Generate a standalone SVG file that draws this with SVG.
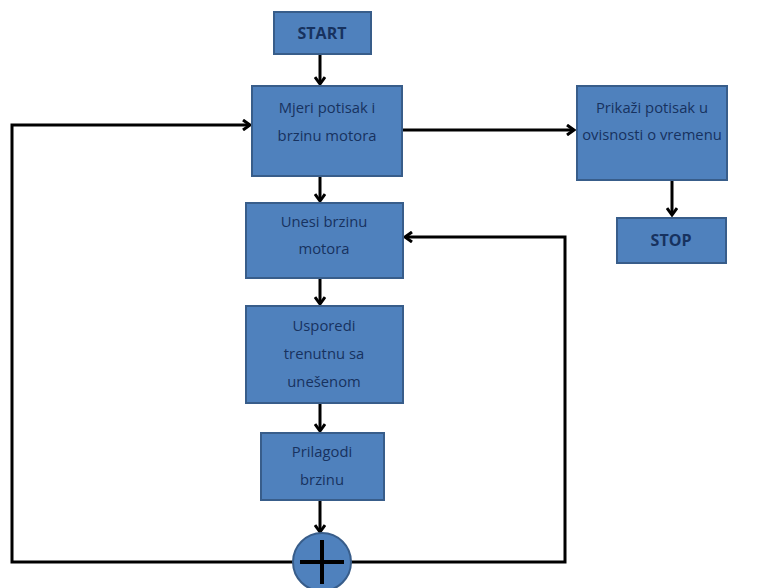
<svg xmlns="http://www.w3.org/2000/svg" width="761" height="588" viewBox="0 0 761 588">
<defs>
<style>
.box{fill:#4f81bd;stroke:#385d8a;stroke-width:2}
.t{font-family:"Open Sans","Liberation Sans",sans-serif;font-size:14.8px;fill:#17325f;text-anchor:middle}
.b{font-weight:bold;font-size:16px}
.c{fill:none;stroke:#000;stroke-width:3}
</style>
<marker id="ah" markerWidth="12" markerHeight="12" refX="9" refY="6" orient="auto" markerUnits="userSpaceOnUse">
<path d="M2,1 L9,6 L2,11" fill="none" stroke="#000" stroke-width="3"/>
</marker>
</defs>
<rect width="761" height="588" fill="#fff"/>
<g id="connectors">
<path class="c" d="M320,54 V84" marker-end="url(#ah)"/>
<path class="c" d="M320,176 V201" marker-end="url(#ah)"/>
<path class="c" d="M320,278 V304" marker-end="url(#ah)"/>
<path class="c" d="M320,403 V431" marker-end="url(#ah)"/>
<path class="c" d="M320,500 V532" marker-end="url(#ah)"/>
<path class="c" d="M402,130 H574" marker-end="url(#ah)"/>
<path class="c" d="M672,180 V215" marker-end="url(#ah)"/>
<path class="c" d="M293,562 H12 V125 H250" marker-end="url(#ah)"/>
<path class="c" d="M351,562 H565 V237 H405" marker-end="url(#ah)"/>
</g>
<g id="start"><rect class="box" x="274" y="12" width="97" height="42"/><text class="t b" x="322" y="39">START</text></g>
<g id="mjeri"><rect class="box" x="252" y="86" width="150" height="90"/><text class="t" x="327" y="113">Mjeri potisak i</text><text class="t" x="327" y="141">brzinu motora</text></g>
<g id="unesi"><rect class="box" x="246" y="203" width="157" height="75"/><text class="t" x="324" y="227">Unesi brzinu</text><text class="t" x="324" y="254">motora</text></g>
<g id="usporedi"><rect class="box" x="246" y="306" width="157" height="97"/><text class="t" x="324" y="331">Usporedi</text><text class="t" x="324" y="359">trenutnu sa</text><text class="t" x="324" y="387">unešenom</text></g>
<g id="prilagodi"><rect class="box" x="261" y="433" width="123" height="67"/><text class="t" x="322" y="457">Prilagodi</text><text class="t" x="322" y="485">brzinu</text></g>
<g id="sum"><circle cx="322" cy="562" r="29" fill="#4f81bd" stroke="#385d8a" stroke-width="2"/><path d="M300,562 H344 M322,540 V584" stroke="#000" stroke-width="4" fill="none"/></g>
<g id="prikazi"><rect class="box" x="577" y="86" width="150" height="94"/><text class="t" x="652" y="113">Prikaži potisak u</text><text class="t" x="652" y="140">ovisnosti o vremenu</text></g>
<g id="stop"><rect class="box" x="617" y="218" width="109" height="45"/><text class="t b" x="671" y="246">STOP</text></g>
</svg>
